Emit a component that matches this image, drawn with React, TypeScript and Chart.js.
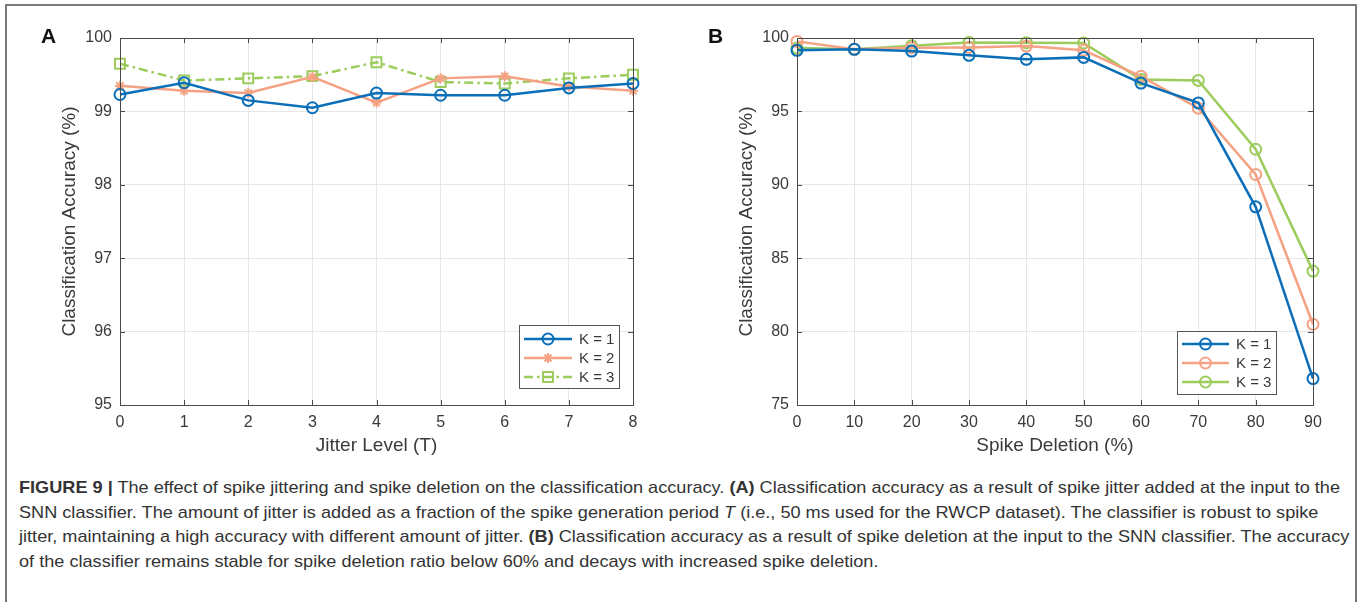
import React, { useEffect, useLayoutEffect, useRef } from 'react';
import { Chart, registerables } from 'chart.js';

Chart.register(...registerables);

// Panel A: accuracy vs. jitter level
const jitterLevels = [0, 1, 2, 3, 4, 5, 6, 7, 8];
const jitterK1 = [99.23, 99.39, 99.15, 99.05, 99.25, 99.22, 99.22, 99.32, 99.38];
const jitterK2 = [99.35, 99.28, 99.25, 99.47, 99.12, 99.45, 99.48, 99.34, 99.28];
const jitterK3 = [99.65, 99.42, 99.45, 99.48, 99.67, 99.4, 99.38, 99.45, 99.5];

// Panel B: accuracy vs. spike deletion
const deletionLevels = [0, 10, 20, 30, 40, 50, 60, 70, 80, 90];
const deletionK1 = [99.16, 99.23, 99.11, 98.82, 98.55, 98.68, 96.93, 95.58, 88.5, 76.8];
const deletionK2 = [99.77, 99.23, 99.34, 99.36, 99.45, 99.16, 97.39, 95.22, 90.7, 80.5];
const deletionK3 = [99.32, 99.23, 99.48, 99.7, 99.68, 99.66, 97.18, 97.11, 92.42, 84.12];

const seriesLabels = ['K = 1', 'K = 2', 'K = 3'];
const jitterAxis = { min: 95, max: 100, step: 1, xMax: 8, xStep: 1 };
const deletionAxis = { min: 75, max: 100, step: 5, xMax: 90, xStep: 10 };

const BLUE = '#0a6fb8';
const SALMON = '#f5a284';
const GREEN = '#9ccc5c';
const AXIS = '#4a4a4a';
const TEXT = '#3a3a3a';
const FONT = "'Liberation Sans', Arial, Helvetica, sans-serif";
const LINE_W = 2.5;

type Marker = 'circle' | 'star' | 'rect';
interface SeriesStyle {
  color: string;
  marker: Marker;
  radius: number;
  dash: number[];
}

function drawMarker(ctx: CanvasRenderingContext2D, m: Marker, x: number, y: number, r: number) {
  ctx.beginPath();
  if (m === 'circle') {
    ctx.arc(x, y, r, 0, Math.PI * 2);
  } else if (m === 'rect') {
    const s = r * Math.SQRT1_2;
    ctx.rect(x - s, y - s, 2 * s, 2 * s);
  } else {
    for (let i = 0; i < 4; i++) {
      const a = (i * Math.PI) / 4;
      ctx.moveTo(x - Math.cos(a) * r, y - Math.sin(a) * r);
      ctx.lineTo(x + Math.cos(a) * r, y + Math.sin(a) * r);
    }
  }
  ctx.stroke();
}

// Axes box with inward ticks, axis titles, panel letter and legend
const matlabFrame = {
  id: 'matlabFrame',
  afterDraw(chart: any, _args: any, opts: any) {
    const { ctx, chartArea } = chart;
    const { left, right, top, bottom } = chartArea;
    const xs = chart.scales.x;
    const ys = chart.scales.y;
    ctx.save();
    ctx.strokeStyle = AXIS;
    ctx.lineWidth = 1;
    ctx.setLineDash([]);
    ctx.strokeRect(Math.round(left) + 0.5, Math.round(top) + 0.5, Math.round(right - left), Math.round(bottom - top));
    const tl = 5;
    ctx.beginPath();
    xs.ticks.forEach((t: any) => {
      const px = Math.round(xs.getPixelForValue(t.value)) + 0.5;
      ctx.moveTo(px, bottom);
      ctx.lineTo(px, bottom - tl);
      ctx.moveTo(px, top);
      ctx.lineTo(px, top + tl);
    });
    ys.ticks.forEach((t: any) => {
      const py = Math.round(ys.getPixelForValue(t.value)) + 0.5;
      ctx.moveTo(left, py);
      ctx.lineTo(left + tl, py);
      ctx.moveTo(right, py);
      ctx.lineTo(right - tl, py);
    });
    ctx.stroke();

    // axis titles
    ctx.fillStyle = TEXT;
    ctx.font = `19px ${FONT}`;
    ctx.textAlign = 'center';
    ctx.textBaseline = 'middle';
    ctx.fillText(opts.xTitle, (left + right) / 2, opts.xTitleY);
    ctx.save();
    ctx.translate(opts.yTitleX, (top + bottom) / 2);
    ctx.rotate(-Math.PI / 2);
    ctx.fillText(opts.yTitle, 0, 0);
    ctx.restore();

    // panel letter
    ctx.fillStyle = '#111';
    ctx.font = `bold 21px ${FONT}`;
    ctx.textAlign = 'left';
    ctx.fillText(opts.letter, opts.letterX, opts.letterY);

    // legend
    const lg = opts.legend;
    const bx = right - lg.offRight - lg.w;
    const by = bottom - lg.offBottom - lg.h;
    ctx.fillStyle = '#fff';
    ctx.fillRect(bx, by, lg.w, lg.h);
    ctx.strokeStyle = '#555';
    ctx.lineWidth = 1;
    ctx.strokeRect(Math.round(bx) + 0.5, Math.round(by) + 0.5, lg.w, lg.h);
    const styles: SeriesStyle[] = opts.styles;
    styles.forEach((s, i) => {
      const ey = by + lg.firstY + i * lg.rowH;
      const x0 = bx + 5;
      const x1 = x0 + lg.lineW;
      ctx.strokeStyle = s.color;
      ctx.lineWidth = LINE_W;
      ctx.setLineDash(s.dash);
      ctx.beginPath();
      ctx.moveTo(x0, ey);
      ctx.lineTo(x1, ey);
      ctx.stroke();
      ctx.setLineDash([]);
      ctx.lineWidth = 2;
      drawMarker(ctx, s.marker, (x0 + x1) / 2, ey, s.radius);
      ctx.fillStyle = TEXT;
      ctx.font = `15px ${FONT}`;
      ctx.textAlign = 'left';
      ctx.textBaseline = 'middle';
      ctx.fillText(seriesLabels[i], x1 + 7, ey + 1);
    });
    ctx.restore();
  },
};

interface PanelProps {
  left: number;
  xs: number[];
  series: number[][];
  styles: SeriesStyle[];
  axis: { min: number; max: number; step: number; xMax: number; xStep: number };
  yAxisWidth: number;
  frame: any;
}

function Panel({ left, xs, series, styles, axis, yAxisWidth, frame }: PanelProps) {
  const ref = useRef<HTMLCanvasElement>(null);
  useEffect(() => {
    if (!ref.current) return;
    const chart = new Chart(ref.current, {
      type: 'line',
      data: {
        datasets: series.map((vals, i) => ({
          label: seriesLabels[i],
          data: xs.map((x, j) => ({ x, y: vals[j] })),
          borderColor: styles[i].color,
          backgroundColor: 'transparent',
          borderWidth: LINE_W,
          borderDash: styles[i].dash,
          pointStyle: styles[i].marker === 'rect' ? 'rect' : styles[i].marker === 'star' ? 'star' : 'circle',
          pointRadius: styles[i].radius,
          pointBorderWidth: 2,
          pointBorderColor: styles[i].color,
          pointBackgroundColor: 'transparent',
          tension: 0,
          clip: false as any,
        })),
      },
      options: {
        animation: false,
        responsive: false,
        events: [],
        layout: { padding: { left: 0, top: 38, right: 47, bottom: 0 } },
        plugins: {
          legend: { display: false },
          tooltip: { enabled: false },
          matlabFrame: frame,
        } as any,
        scales: {
          x: {
            type: 'linear',
            min: 0,
            max: axis.xMax,
            border: { display: false },
            grid: { color: '#e6e6e6', lineWidth: 1, drawTicks: false },
            ticks: {
              stepSize: axis.xStep,
              color: TEXT,
              font: { family: FONT, size: 16 },
              padding: 8,
              maxRotation: 0,
            },
            afterFit: (s: any) => {
              s.height = 65;
            },
          },
          y: {
            type: 'linear',
            min: axis.min,
            max: axis.max,
            border: { display: false },
            grid: { color: '#e6e6e6', lineWidth: 1, drawTicks: false },
            ticks: {
              stepSize: axis.step,
              color: TEXT,
              font: { family: FONT, size: 16 },
              padding: 8,
            },
            afterFit: (s: any) => {
              s.width = yAxisWidth;
            },
          },
        },
      },
      plugins: [matlabFrame],
    });
    return () => chart.destroy();
  }, []);
  return (
    <canvas
      ref={ref}
      width={680}
      height={470}
      style={{ position: 'absolute', left, top: 0, width: 680, height: 470 }}
    />
  );
}

const jitterStyles: SeriesStyle[] = [
  { color: BLUE, marker: 'circle', radius: 5.5, dash: [] },
  { color: SALMON, marker: 'star', radius: 5, dash: [] },
  { color: GREEN, marker: 'rect', radius: 7, dash: [9, 4, 2.5, 4] },
];
const deletionStyles: SeriesStyle[] = [
  { color: BLUE, marker: 'circle', radius: 5.5, dash: [] },
  { color: SALMON, marker: 'circle', radius: 5.5, dash: [] },
  { color: GREEN, marker: 'circle', radius: 5.5, dash: [] },
];

const captionLines: React.ReactNode[] = [
  <>
    <b>FIGURE 9 |</b> The effect of spike jittering and spike deletion on the classification accuracy. <b>(A)</b>{' '}
    Classification accuracy as a result of spike jitter added at the input to the
  </>,
  <>
    SNN classifier. The amount of jitter is added as a fraction of the spike generation period <i>T</i> (i.e., 50 ms
    used for the RWCP dataset). The classifier is robust to spike
  </>,
  <>
    jitter, maintaining a high accuracy with different amount of jitter. <b>(B)</b> Classification accuracy as a
    result of spike deletion at the input to the SNN classifier. The accuracy
  </>,
  <>of the classifier remains stable for spike deletion ratio below 60% and decays with increased spike deletion.</>,
];

function Caption() {
  const boxRef = useRef<HTMLDivElement>(null);
  const firstRef = useRef<HTMLSpanElement>(null);
  useLayoutEffect(() => {
    if (!boxRef.current || !firstRef.current) return;
    const w = firstRef.current.getBoundingClientRect().width;
    if (w > 0) boxRef.current.style.transform = `scaleX(${1321 / w})`;
  }, []);
  return (
    <div
      ref={boxRef}
      style={{
        position: 'absolute',
        left: 19,
        top: 476,
        transformOrigin: 'left top',
        fontFamily: "'Liberation Sans Narrow', 'Liberation Sans', Arial, sans-serif",
        fontSize: 17,
        lineHeight: '24.5px',
        color: '#333',
        whiteSpace: 'nowrap',
      }}
    >
      {captionLines.map((line, i) => (
        <div key={i}>
          <span ref={i === 0 ? firstRef : undefined}>{line}</span>
        </div>
      ))}
    </div>
  );
}

export default function App() {
  return (
    <div
      style={{
        position: 'absolute',
        left: 0,
        top: 0,
        width: 1360,
        height: 602,
        background: '#fff',
        overflow: 'hidden',
      }}
    >
      <div
        style={{
          position: 'absolute',
          left: 5,
          top: 4,
          width: 1348,
          height: 620,
          borderTop: '2px solid #7a7a7a',
          borderLeft: '2px solid #7a7a7a',
          borderRight: '2px solid #7a7a7a',
        }}
      />
      <Panel
        left={0}
        xs={jitterLevels}
        series={[jitterK1, jitterK2, jitterK3]}
        styles={jitterStyles}
        axis={jitterAxis}
        yAxisWidth={120}
        frame={{
          xTitle: 'Jitter Level (T)',
          yTitle: 'Classification Accuracy (%)',
          xTitleY: 446,
          yTitleX: 70,
          letter: 'A',
          letterX: 41,
          letterY: 37,
          styles: jitterStyles,
          legend: { w: 100, h: 63, offRight: 14, offBottom: 17, firstY: 14, rowH: 19, lineW: 48 },
        }}
      />
      <Panel
        left={680}
        xs={deletionLevels}
        series={[deletionK1, deletionK2, deletionK3]}
        styles={deletionStyles}
        axis={deletionAxis}
        yAxisWidth={117}
        frame={{
          xTitle: 'Spike Deletion (%)',
          yTitle: 'Classification Accuracy (%)',
          xTitleY: 446,
          yTitleX: 67,
          letter: 'B',
          letterX: 28,
          letterY: 37,
          styles: deletionStyles,
          legend: { w: 99, h: 63, offRight: 37, offBottom: 11, firstY: 13, rowH: 19, lineW: 47 },
        }}
      />
      <Caption />
    </div>
  );
}
